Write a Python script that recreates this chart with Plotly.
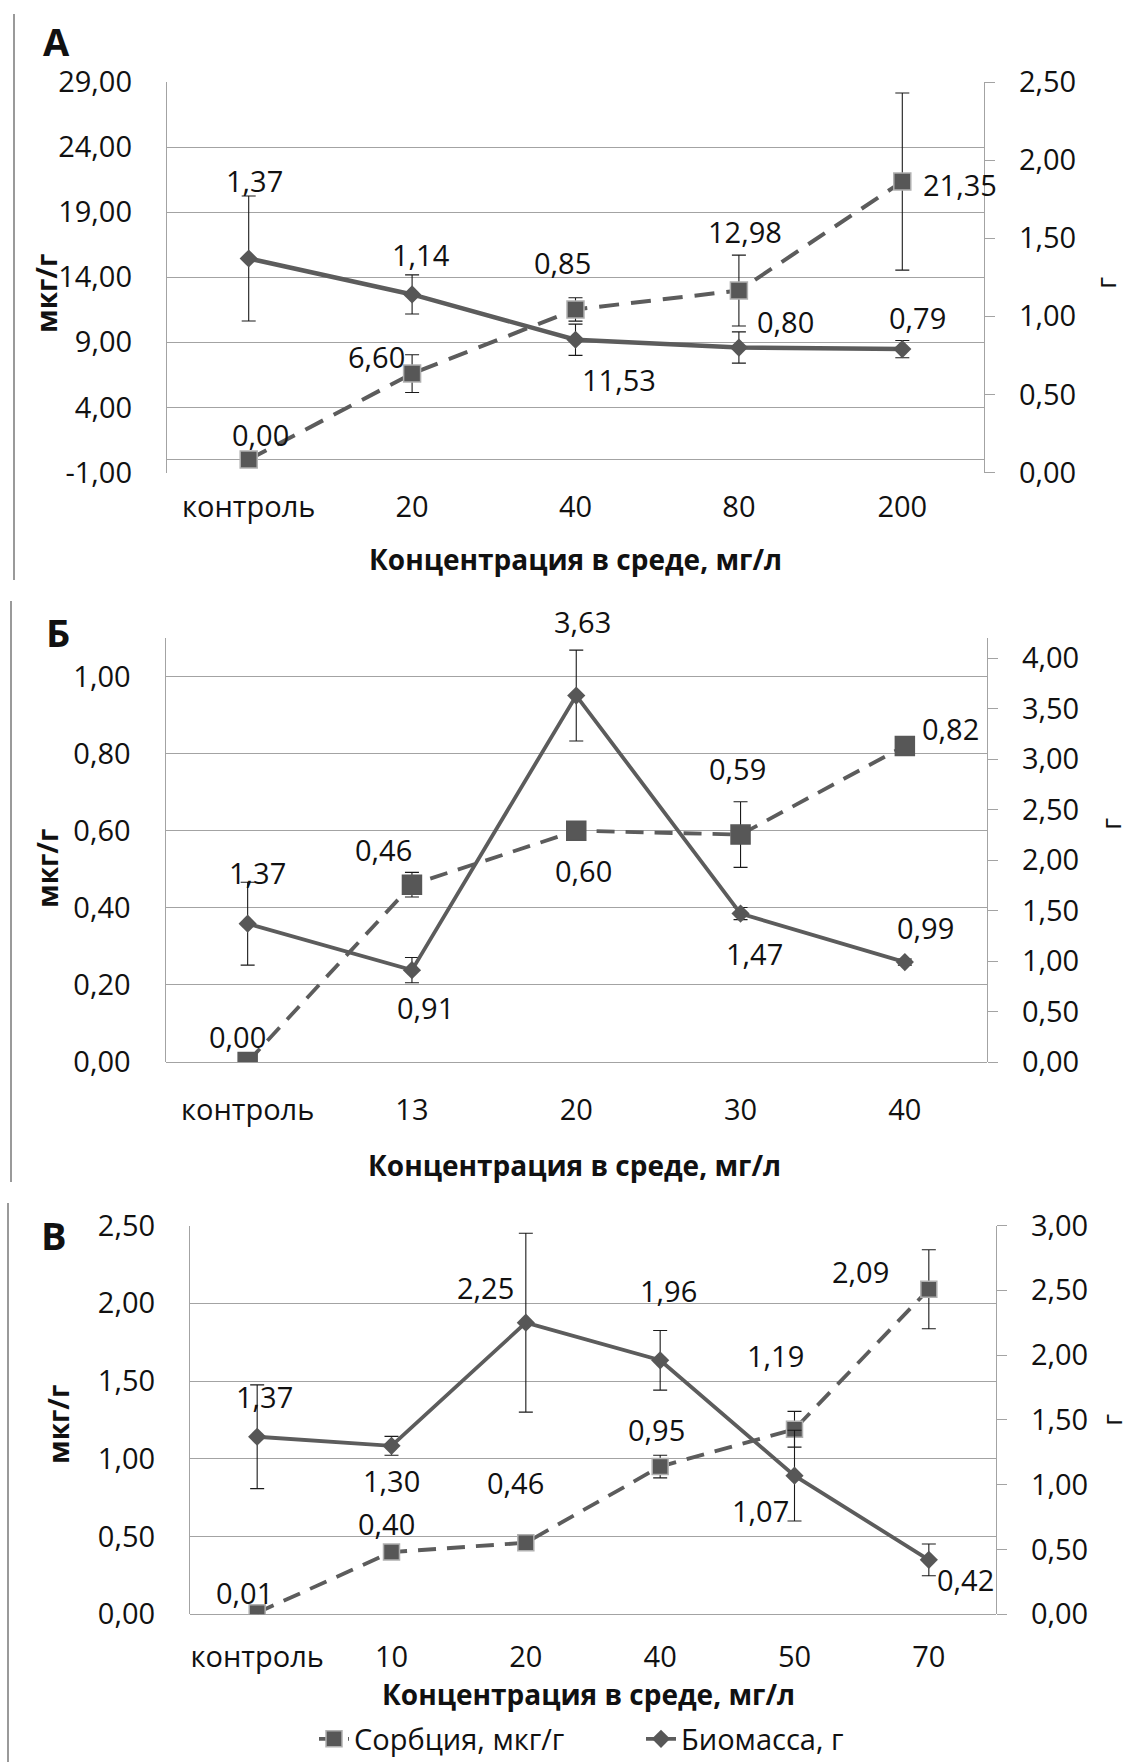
import plotly.graph_objects as go

# ---------------- data ----------------
# Panel А
a_cats = ["контроль", "20", "40", "80", "200"]
a_sorb = [0.00, 6.60, 11.53, 12.98, 21.35]
a_sorb_err = [0.0, 1.45, 0.9, 2.72, 6.8]
a_bio = [1.37, 1.14, 0.85, 0.80, 0.79]
a_bio_err = [0.40, 0.125, 0.10, 0.10, 0.055]
a_left_ticks = [-1, 4, 9, 14, 19, 24, 29]
a_right_ticks = [0.0, 0.5, 1.0, 1.5, 2.0, 2.5]

# Panel Б
b_cats = ["контроль", "13", "20", "30", "40"]
b_sorb = [0.00, 0.46, 0.60, 0.59, 0.82]
b_sorb_err = [0.0, 0.032, 0.0, 0.085, 0.0]
b_bio = [1.37, 0.91, 3.63, 1.47, 0.99]
b_bio_err = [0.41, 0.125, 0.45, 0.06, 0.03]
b_left_ticks = [0.0, 0.2, 0.4, 0.6, 0.8, 1.0]
b_right_ticks = [0.0, 0.5, 1.0, 1.5, 2.0, 2.5, 3.0, 3.5, 4.0]

# Panel В
c_cats = ["контроль", "10", "20", "40", "50", "70"]
c_sorb = [0.01, 0.40, 0.46, 0.95, 1.19, 2.09]
c_sorb_err = [0.0, 0.0, 0.0, 0.073, 0.115, 0.254]
c_bio = [1.37, 1.30, 2.25, 1.96, 1.07, 0.42]
c_bio_err = [0.40, 0.073, 0.69, 0.23, 0.35, 0.122]
c_left_ticks = [0.0, 0.5, 1.0, 1.5, 2.0, 2.5]
c_right_ticks = [0.0, 0.5, 1.0, 1.5, 2.0, 2.5, 3.0]

sorb_name = "Сорбция, мкг/г"
bio_name = "Биомасса, г"
x_title = "Концентрация в среде, мг/л"
left_title = "мкг/г"
right_title = "г"

# ---------------- style ----------------
W, H = 1142, 1762
FONT = "Open Sans"
FS = 29
TXT = "#111111"
LINE = "#5c5c5c"
MARK = "#575757"
GRID = "#a3a3a3"


def fmt(v):
    return f"{v:.2f}".replace(".", ",")


def px_x(p):
    return p / W


def px_y(p):
    return 1 - p / H


panels = [
    dict(letter="А", cats=a_cats, sorb=a_sorb, sorb_err=a_sorb_err, bio=a_bio, bio_err=a_bio_err,
         lt=a_left_ticks, rt=a_right_ticks, lrange=[-1, 29], rrange=[0, 2.5],
         box=(167, 984, 82, 472.5), sq_border=True, sq_size=17, wsolid=4.5, wdash=4.0,
         dash="20px,12px", xstand=14,
         sorb_off=[(12, -25), (-36, -17), (43, 70), (6, -59), (58, 3)],
         bio_off=[(6, -78), (9, -40), (-13, -77), (47, -26), (15, -32)],
         letter_pos=(57, 41), ltitle=(46, 294), rtitle=(1105, 283), xtitle=(575, 559),
         border=(14, 14, 580)),
    dict(letter="Б", cats=b_cats, sorb=b_sorb, sorb_err=b_sorb_err, bio=b_bio, bio_err=b_bio_err,
         lt=b_left_ticks, rt=b_right_ticks, lrange=[0, 1.1], rrange=[0, 4.2],
         box=(165.5, 987, 638, 1062), sq_border=False, sq_size=19, wsolid=3.8, wdash=3.8,
         dash="18px,11px", xstand=28,
         sorb_off=[(-10, -26), (-28, -35), (7, 40), (-3, -66), (46, -17)],
         bio_off=[(10, -51), (14, 37), (6, -74), (14, 40), (21, -35)],
         letter_pos=(58, 632), ltitle=(47, 868), rtitle=(1110, 824), xtitle=(574, 1165),
         border=(11, 601, 1182)),
    dict(letter="В", cats=c_cats, sorb=c_sorb, sorb_err=c_sorb_err, bio=c_bio, bio_err=c_bio_err,
         lt=c_left_ticks, rt=c_right_ticks, lrange=[0, 2.5], rrange=[0, 3.0],
         box=(190, 996, 1225.5, 1614.3), sq_border=True, sq_size=16, wsolid=3.8, wdash=3.8,
         dash="18px,11px", xstand=23,
         sorb_off=[(-13, -20), (-5, -29), (-10, -60), (-4, -37), (-19, -74), (-68, -18)],
         bio_off=[(7, -40), (0, 35), (-40, -35), (8, -70), (-34, 35), (37, 20)],
         letter_pos=(54, 1235), ltitle=(58, 1425), rtitle=(1111, 1420), xtitle=(588, 1694),
         border=(8, 1203, 1762)),
]

fig = go.Figure()
annotations = []
shapes = []
layout = {}


def paper_text(x, y, text, size, angle=0):
    return dict(x=px_x(x), y=px_y(y), xref="paper", yref="paper", text=text,
                xanchor="center", yanchor="middle", textangle=angle, showarrow=False,
                font=dict(size=size, color=TXT))


for i, p in enumerate(panels):
    xn = "x" if i == 0 else f"x{i + 1}"
    yl = "y" if i == 0 else f"y{2 * i + 1}"
    yr = f"y{2 * i + 2}"
    xkey = "xaxis" if i == 0 else f"xaxis{i + 1}"
    ylkey = "yaxis" if i == 0 else f"yaxis{2 * i + 1}"
    yrkey = f"yaxis{2 * i + 2}"
    x0, x1, y0, y1 = p["box"]
    last = i == len(panels) - 1

    # sorption: dashed line with squares, left axis
    fig.add_trace(go.Scatter(
        x=p["cats"], y=p["sorb"], xaxis=xn, yaxis=yl, name=sorb_name,
        mode="lines+markers", showlegend=last, legendrank=1,
        line=dict(color=LINE, width=p["wdash"], dash=p["dash"]),
        marker=dict(symbol="square", size=p["sq_size"], color=MARK,
                    line=dict(color="#b0b0b0" if p["sq_border"] else MARK, width=1.5)),
        error_y=dict(type="data", array=p["sorb_err"], color="#1a1a1a", thickness=1.1, width=7),
        hoverinfo="skip",
    ))
    # biomass: solid line with diamonds, right axis
    fig.add_trace(go.Scatter(
        x=p["cats"], y=p["bio"], xaxis=xn, yaxis=yr, name=bio_name,
        mode="lines+markers", showlegend=last, legendrank=2,
        line=dict(color=LINE, width=p["wsolid"]),
        marker=dict(symbol="diamond", size=14, color=MARK, line=dict(width=0)),
        error_y=dict(type="data", array=p["bio_err"], color="#1a1a1a", thickness=1.1, width=7),
        hoverinfo="skip",
    ))

    layout[xkey] = dict(
        domain=[px_x(x0), px_x(x1)], anchor=yl, type="category",
        range=[-0.5, len(p["cats"]) - 0.5], showgrid=False, zeroline=False,
        showline=False, ticks="", tickfont=dict(size=FS, color=TXT),
        ticklabelstandoff=p["xstand"],
    )
    layout[ylkey] = dict(
        domain=[px_y(y1), px_y(y0)], anchor=xn, range=p["lrange"],
        tickvals=p["lt"], ticktext=[fmt(v) for v in p["lt"]],
        showgrid=True, gridcolor=GRID, gridwidth=1.3,
        zeroline=True, zerolinecolor=GRID, zerolinewidth=1.3,
        showline=True, linecolor=GRID, linewidth=1.3, ticks="",
        tickfont=dict(size=FS, color=TXT), ticklabelstandoff=28,
    )
    layout[yrkey] = dict(
        overlaying=yl, side="right", anchor=xn, range=p["rrange"],
        tickvals=p["rt"], ticktext=[fmt(v) for v in p["rt"]],
        showgrid=False, zeroline=False, showline=True, linecolor=GRID, linewidth=1.3,
        ticks="outside", ticklen=10, tickcolor=GRID, tickwidth=1.3,
        tickfont=dict(size=FS, color=TXT), ticklabelstandoff=18,
    )

    # value labels next to the points (x given as category index)
    for j, (v, (dx, dy)) in enumerate(zip(p["sorb"], p["sorb_off"])):
        annotations.append(dict(x=j, y=v, xref=xn, yref=yl, text=fmt(v), showarrow=False,
                                xanchor="center", yanchor="middle",
                                xshift=dx, yshift=-dy, font=dict(size=FS, color=TXT)))
    for j, (v, (dx, dy)) in enumerate(zip(p["bio"], p["bio_off"])):
        annotations.append(dict(x=j, y=v, xref=xn, yref=yr, text=fmt(v), showarrow=False,
                                xanchor="center", yanchor="middle",
                                xshift=dx, yshift=-dy, font=dict(size=FS, color=TXT)))

    # panel letter and axis titles
    annotations.append(paper_text(*p["letter_pos"], f"<b>{p['letter']}</b>", 38))
    annotations.append(paper_text(*p["ltitle"], f"<b>{left_title}</b>", 28, -90))
    annotations.append(paper_text(*p["rtitle"], right_title, 28, -90))
    annotations.append(paper_text(*p["xtitle"], f"<b>{x_title}</b>", 28))

    # thin frame edge on the left of each panel
    bx, by0, by1 = p["border"]
    shapes.append(dict(type="line", xref="paper", yref="paper", x0=px_x(bx), x1=px_x(bx),
                       y0=px_y(by0), y1=px_y(by1), line=dict(color="#9a9a9a", width=2)))

fig.update_layout(
    width=W, height=H, margin=dict(l=0, r=0, t=0, b=0, autoexpand=False),
    paper_bgcolor="white", plot_bgcolor="white",
    font=dict(family=FONT, size=FS, color=TXT),
    annotations=annotations, shapes=shapes,
    showlegend=True,
    legend=dict(orientation="h", x=px_x(314), y=px_y(1739), xanchor="left", yanchor="middle",
                bgcolor="rgba(0,0,0,0)", font=dict(size=FS, color=TXT), itemclick=False,
                itemdoubleclick=False, entrywidth=282, entrywidthmode="pixels"),
    **layout,
)

fig.write_html("out.html")
